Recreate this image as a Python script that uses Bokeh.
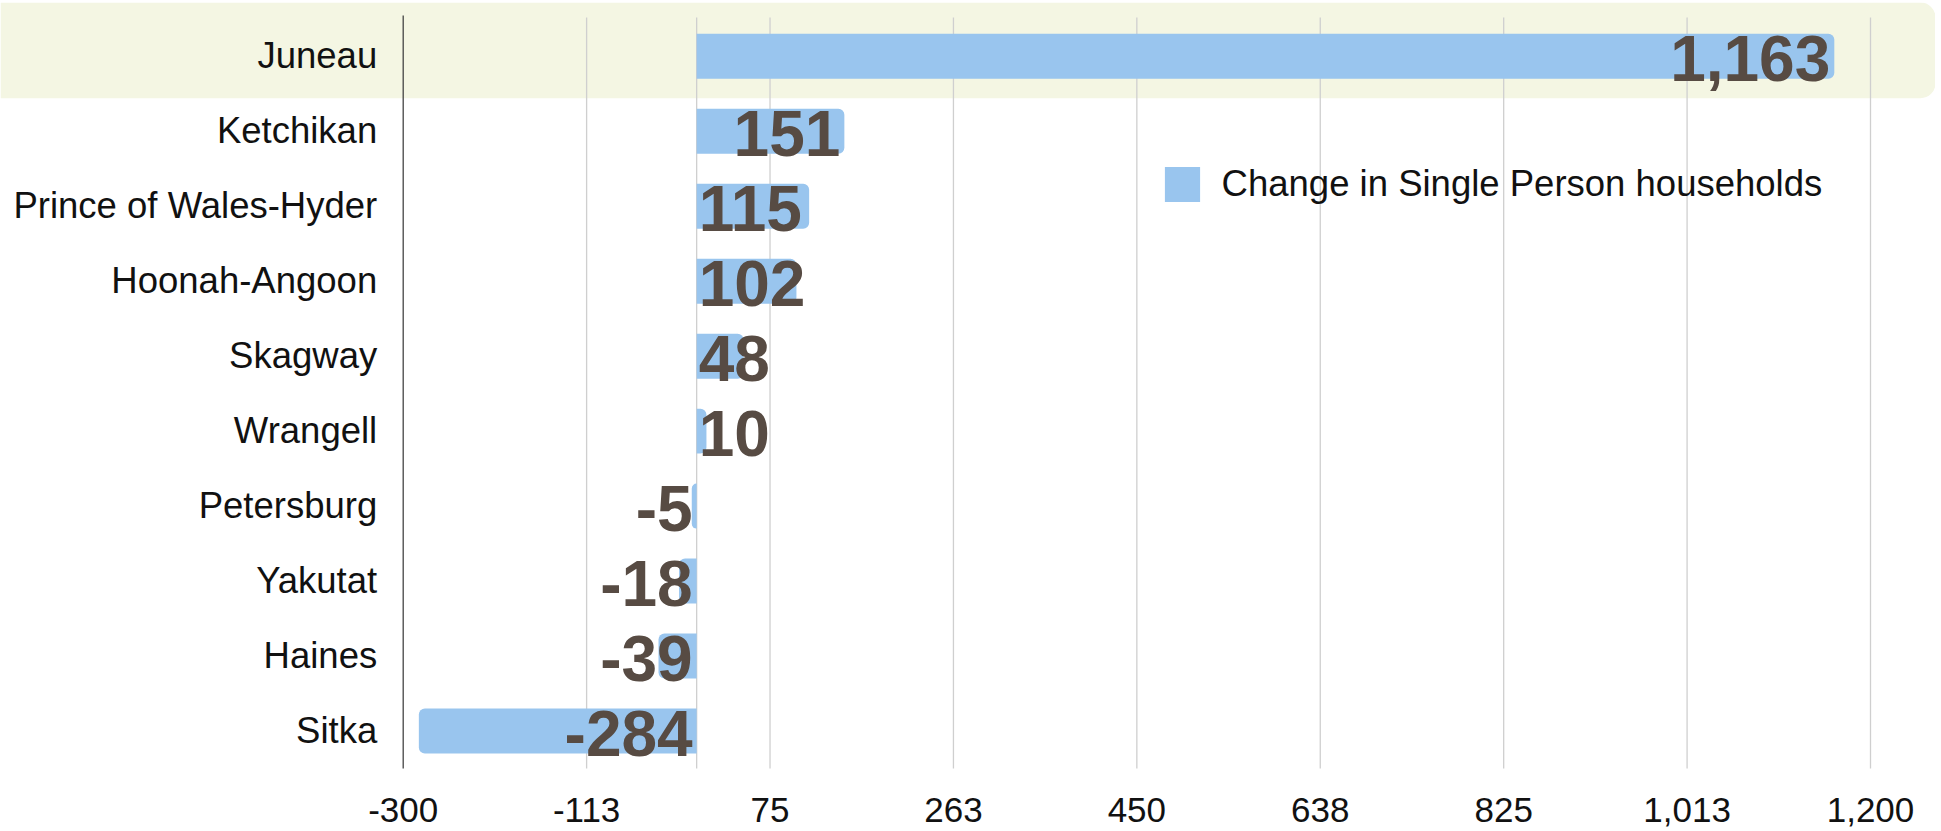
from bokeh.plotting import figure
from bokeh.models import (ColumnDataSource, Range1d, FixedTicker, BoxAnnotation,
                          Legend, LegendItem)
from bokeh.core.properties import value
from bokeh.embed import file_html
from bokeh.resources import INLINE

# ---------------- data ----------------
regions = ["Juneau", "Ketchikan", "Prince of Wales-Hyder", "Hoonah-Angoon", "Skagway",
           "Wrangell", "Petersburg", "Yakutat", "Haines", "Sitka"]
changes = [1163, 151, 115, 102, 48, 10, -5, -18, -39, -284]
tick_values = [-300, -112.5, 75, 262.5, 450, 637.5, 825, 1012.5, 1200]
tick_labels = ["-300", "-113", "75", "263", "450", "638", "825", "1,013", "1,200"]
series_name = "Change in Single Person households"
highlighted = "Juneau"

# ---------------- layout / style ----------------
X_MIN, X_MAX = -300, 1200          # value axis extent
CANVAS_W, CANVAS_H = 1935, 831
AXIS_PX, RIGHT_PX = 402.7, 1870.0  # screen x of X_MIN and X_MAX
ROW_PX = 75.0
TOP_BORDER = 2
TOP_PAD_PX = 16.3                  # frame space above first row
BOTTOM_BORDER = 63
GRID_OVER_TOP_PX = 1.3             # grid lines start slightly above first row
AXIS_OVER_TOP_PX = 3.3
BAR_COLOR = "#99C5EE"
VALUE_COLOR = "#574B43"
GRID_COLOR = "#CFCFCF"
AXIS_COLOR = "#444444"
HILITE = "#F4F6E3"
TEXT_COLOR = "#111111"
FONT = "Liberation Sans"
CAT_PX = 36.5
TICK_PX = 35
VALUE_PX = 64

ppu = (RIGHT_PX - AXIS_PX) / (X_MAX - X_MIN)
x_start = X_MIN - AXIS_PX / ppu
x_end = X_MAX + (CANVAS_W - RIGHT_PX) / ppu

n = len(regions)
ypos = [n - 1 - i for i in range(n)]          # first region on top
y_start = -0.5
y_end = n - 0.5 + TOP_PAD_PX / ROW_PX


def fmt(v):
    return f"{v:,}"


def text_w(s):
    w = 0.0
    for c in s:
        w += 0.556 if c.isdigit() else (0.278 if c == "," else 0.333)
    return w * VALUE_PX


pos = dict(y=[], change=[])
neg = dict(y=[], change=[])
for y, v in zip(ypos, changes):
    d = pos if v >= 0 else neg
    d["y"].append(y)
    d["change"].append(v)

lab_r = dict(y=[], x=[], text=[])   # right-aligned value labels
lab_l = dict(y=[], x=[], text=[])   # left-aligned value labels
for y, v in zip(ypos, changes):
    s = fmt(v)
    if v < 0:
        d, x = lab_r, 0
    elif v * ppu >= text_w(s) + 10:
        d, x = lab_r, v
    else:
        d, x = lab_l, 0
    d["y"].append(y); d["x"].append(x); d["text"].append(s)

p = figure(x_range=Range1d(x_start, x_end), y_range=Range1d(y_start, y_end),
           width=CANVAS_W, height=CANVAS_H,
           min_border_left=0, min_border_right=0,
           min_border_top=TOP_BORDER, min_border_bottom=BOTTOM_BORDER,
           y_axis_location=None,
           output_backend="svg", toolbar_location=None,
           outline_line_color=None, background_fill_color="white")

# highlight band behind the highlighted row
hl_y = ypos[regions.index(highlighted)]
band = BoxAnnotation(bottom=hl_y - 0.56,
                     fill_color=HILITE, fill_alpha=1.0, line_color=None,
                     border_radius=(0, 15, 15, 0), level="image")
p.add_layout(band)

# vertical grid lines (at the ticks and at the zero baseline) and value-axis line
p.xgrid.grid_line_color = None
p.ygrid.grid_line_color = None
grid_x = tick_values[1:] + [0]
grid_top = n - 0.5 + GRID_OVER_TOP_PX / ROW_PX
p.segment(x0=grid_x, x1=grid_x, y0=[y_start - 0.1] * len(grid_x), y1=[grid_top] * len(grid_x),
          line_color=GRID_COLOR, line_width=1.3, level="underlay")
axis_top = n - 0.5 + AXIS_OVER_TOP_PX / ROW_PX
p.segment(x0=[X_MIN], x1=[X_MIN], y0=[y_start - 0.1], y1=[axis_top],
          line_color=AXIS_COLOR, line_width=1.3)

# bars
r_pos = p.hbar(y="y", left=0, right="change", height=0.6, source=ColumnDataSource(pos),
               fill_color=BAR_COLOR, line_color=None, border_radius=(0, 6, 6, 0))
p.hbar(y="y", left="change", right=0, height=0.6, source=ColumnDataSource(neg),
       fill_color=BAR_COLOR, line_color=None, border_radius=(6, 0, 0, 6))

# value labels
for src, align, off in ((lab_r, "right", -4), (lab_l, "left", 2)):
    p.text(x="x", y="y", text="text", source=ColumnDataSource(src),
           text_align=align, text_baseline="middle", x_offset=off, y_offset=2,
           text_font=value(FONT), text_font_style="bold", text_font_size=f"{VALUE_PX}px",
           text_color=VALUE_COLOR)

# category labels (left of the value axis line)
p.text(x=[X_MIN] * n, y=ypos, text=regions, text_align="right", text_baseline="middle",
       x_offset=-26, y_offset=-1, text_font=value(FONT), text_font_size=f"{CAT_PX}px",
       text_color=TEXT_COLOR)

# bottom axis
p.xaxis.ticker = FixedTicker(ticks=tick_values)
p.xaxis.major_label_overrides = {t: l for t, l in zip(tick_values, tick_labels)}
p.xaxis.axis_line_color = None
p.xaxis.major_tick_line_color = None
p.xaxis.minor_tick_line_color = None
p.xaxis.major_tick_out = 0
p.xaxis.major_tick_in = 0
p.xaxis.major_label_standoff = 29
p.xaxis.major_label_text_font = FONT
p.xaxis.major_label_text_font_size = f"{TICK_PX}px"
p.xaxis.major_label_text_color = TEXT_COLOR

legend = Legend(items=[LegendItem(label=series_name, renderers=[r_pos])],
                location=(1159.6, 561.7), border_line_color=None, background_fill_alpha=0,
                padding=0, margin=0, glyph_width=44, glyph_height=44, label_standoff=18,
                label_text_font=FONT, label_text_font_size=f"{CAT_PX}px",
                label_text_color=TEXT_COLOR)
p.add_layout(legend)

open("out.html", "w").write(file_html(p, INLINE))
